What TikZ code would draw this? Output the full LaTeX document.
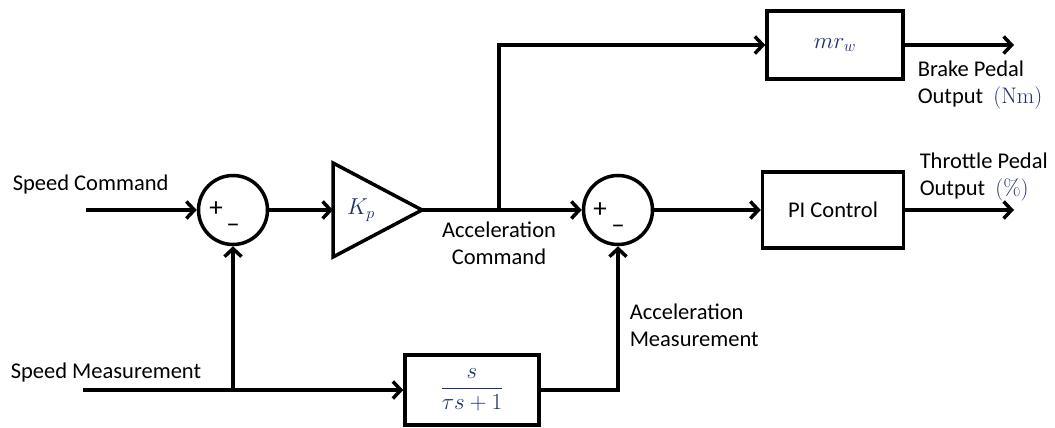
\RequirePackage{fix-cm}
\documentclass[tikz,border=0pt]{standalone}
\usepackage[no-math]{fontspec}
\setmainfont{Carlito}
\usetikzlibrary{arrows.meta}
\definecolor{mathblue}{RGB}{30,45,110}
\begin{document}
\begin{tikzpicture}[x=1pt,y=-1pt,line width=3.5pt,
  block/.style={draw,rectangle,inner sep=0pt},
  sumnode/.style={draw,circle,minimum size=69pt,inner sep=0pt},
  lbl/.style={font=\fontsize{22.5}{27}\selectfont,inner sep=0pt},
  signlbl/.style={font=\fontsize{27}{27}\selectfont,inner sep=0pt},
  mathtext/.style={text=mathblue,font=\fontsize{23}{27}\selectfont},
  sig/.style={-{Straight Barb[length=8pt,width=17pt]},line join=miter}]
\useasboundingbox (0,0) rectangle (1055,428);
% summing junctions
\node[sumnode] (s1) at (233,210) {};
\node[signlbl] (s1p) at (216,209) {+};
\node[signlbl] (s1m) at (233,228) {–};
\node[sumnode] (s2) at (618,210) {};
\node[signlbl] (s2p) at (600,210) {+};
\node[signlbl] (s2m) at (618,229) {–};
% gain triangle
\coordinate (kin) at (333,210);
\coordinate (kout) at (422,210);
\draw[line join=miter] (333,163) -- (kout) -- (333,257) -- cycle;
\node[mathtext] (kp) at (361,210) {$K_p$};
% blocks
\node[block,minimum width=136pt,minimum height=68pt,mathtext] (mrw) at (835,45) {$mr_w$};
\node[block,minimum width=141pt,minimum height=76pt,lbl] (pi) at (833,210) {PI Control};
\node[block,minimum width=134pt,minimum height=70pt,mathtext] (fb) at (472,390) {$\displaystyle\frac{s}{\tau s+1}$};
% coordinates
\coordinate (in1) at (86,210);
\coordinate (in2) at (83,390);
\coordinate (br) at (499,210);
\coordinate (br2) at (233,390);
\coordinate (o1) at (1014,45);
\coordinate (o2) at (1014,210);
% connectors
\draw[sig] (in1) -- (s1.west);
\draw[sig] (s1.east) -- (kin);
\draw[sig] (kout) -- (s2.west);
\draw[sig] (br) |- (mrw.west);
\draw[sig] (mrw.east) -- (o1);
\draw[sig] (s2.east) -- (pi.west);
\draw[sig] (pi.east) -- (o2);
\draw[sig] (in2) -- (fb.west);
\draw[sig] (br2) -- (s1.south);
\draw[sig] (fb.east) -| (s2.south);
% labels
\node[lbl,anchor=west] (lsc) at (11,185) {Speed Command};
\node[lbl,anchor=west] (lsm) at (9,372) {Speed Measurement};
\node[lbl,align=center] (lac) at (499,243) {Acceleration\\Command};
\node[lbl,align=left,anchor=west] (lam) at (628,325) {Acceleration\\Measurement};
\node[lbl,align=left,anchor=west] (lbp) at (916,85) {Brake Pedal\\Output\ \ {\color{mathblue}$(\mathrm{Nm})$}};
\node[lbl,align=left,anchor=west] (ltp) at (918,177) {Throttle Pedal\\Output\ \ {\color{mathblue}$(\%)$}};
\end{tikzpicture}
\end{document}
